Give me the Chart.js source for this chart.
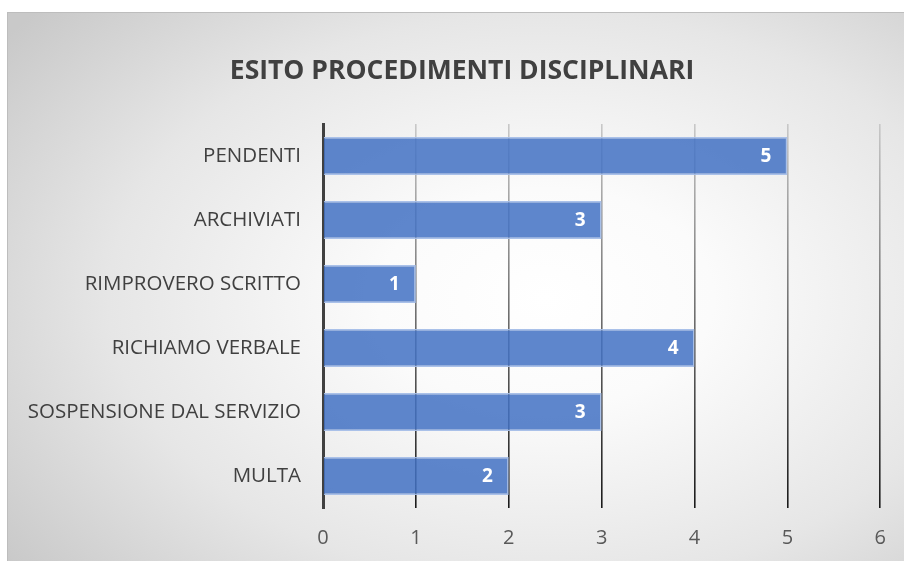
<!DOCTYPE html>
<html>
<head>
<meta charset="utf-8">
<script src="https://cdn.jsdelivr.net/npm/chart.js@4/dist/chart.umd.min.js"></script>
<style>
  html, body { margin: 0; padding: 0; background: #ffffff; }
  body { width: 904px; height: 561px; position: relative; overflow: hidden; }
  #frame {
    position: absolute; left: 7px; top: 12px; width: 897px; height: 549px;
    box-sizing: border-box;
    border-top: 1px solid #bdbdbd; border-left: 1px solid #bdbdbd;
    background: radial-gradient(ellipse 75% 80% at 60% 52%, #ffffff 0%, #fbfbfb 25%, #e6e6e6 65%, #c9c9c9 100%);
  }
  #wrap { position: absolute; left: 0; top: 0; width: 896px; height: 548px; }
</style>
</head>
<body>
<div id="frame"><div id="wrap"><canvas id="c" width="896" height="548"></canvas></div></div>
<script>
const chartTitle = "ESITO PROCEDIMENTI DISCIPLINARI";
const categories = ["PENDENTI", "ARCHIVIATI", "RIMPROVERO SCRITTO", "RICHIAMO VERBALE", "SOSPENSIONE DAL SERVIZIO", "MULTA"];
const values = [5, 3, 1, 4, 3, 2];
const xTicks = [0, 1, 2, 3, 4, 5, 6];

const fontFamily = "'Open Sans', 'Noto Sans', sans-serif";

const titlePlugin = {
  id: 'titlePlugin',
  afterDraw(chart) {
    const ctx = chart.ctx;
    ctx.save();
    ctx.fillStyle = '#404040';
    ctx.font = "bold 26.5px " + fontFamily;
    ctx.textAlign = 'center';
    ctx.textBaseline = 'middle';
    ctx.fillText(chartTitle, chart.width / 2 + 6, 58);
    ctx.restore();
  }
};

const barLabels = {
  id: 'barLabels',
  afterDatasetsDraw(chart) {
    const ctx = chart.ctx;
    const meta = chart.getDatasetMeta(0);
    ctx.save();
    ctx.fillStyle = '#ffffff';
    ctx.font = "bold 19px " + fontFamily;
    ctx.textAlign = 'right';
    ctx.textBaseline = 'middle';
    meta.data.forEach((bar, i) => {
      ctx.fillText(String(values[i]), bar.x - 16, bar.y + 1);
    });
    ctx.restore();
  }
};

function gridColor(context) {
  const chart = context.chart;
  const area = chart.chartArea;
  if (!area) return '#888';
  if (context.tick && context.tick.value === 0) return 'rgba(0,0,0,0)';
  const g = chart.ctx.createLinearGradient(0, area.top, 0, area.bottom);
  g.addColorStop(0, '#c8c8c8');
  g.addColorStop(0.5, '#6e6e6e');
  g.addColorStop(1, '#1a1a1a');
  return g;
}

new Chart(document.getElementById('c'), {
  type: 'bar',
  data: {
    labels: categories,
    datasets: [{
      data: values,
      backgroundColor: 'rgba(68,114,196,0.86)',
      borderColor: 'rgba(165,190,232,0.95)',
      borderWidth: 1.5,
      borderSkipped: 'left',
      categoryPercentage: 1.0,
      barPercentage: 0.59
    }]
  },
  options: {
    indexAxis: 'y',
    responsive: false,
    animation: false,
    layout: { padding: { left: 0, right: 22, top: 111, bottom: 0 } },
    plugins: {
      legend: { display: false },
      tooltip: { enabled: false },
      title: { display: false }
    },
    scales: {
      x: {
        min: 0, max: 6,
        afterBuildTicks(scale) { scale.ticks = xTicks.map(v => ({ value: v })); },
        grid: { color: gridColor, lineWidth: 1.6, drawTicks: false },
        border: { display: false },
        ticks: {
          color: '#595959',
          font: { family: fontFamily, size: 20 },
          padding: 18
        },
        afterFit(scale) { scale.height = 53; }
      },
      y: {
        grid: { display: false, drawTicks: false },
        border: { display: true, color: '#404040', width: 3 },
        ticks: {
          color: '#404040',
          font: { family: fontFamily, size: 20.5 },
          padding: 22
        },
        afterFit(scale) { scale.width = 315; }
      }
    }
  },
  plugins: [titlePlugin, barLabels]
});
</script>
</body>
</html>
